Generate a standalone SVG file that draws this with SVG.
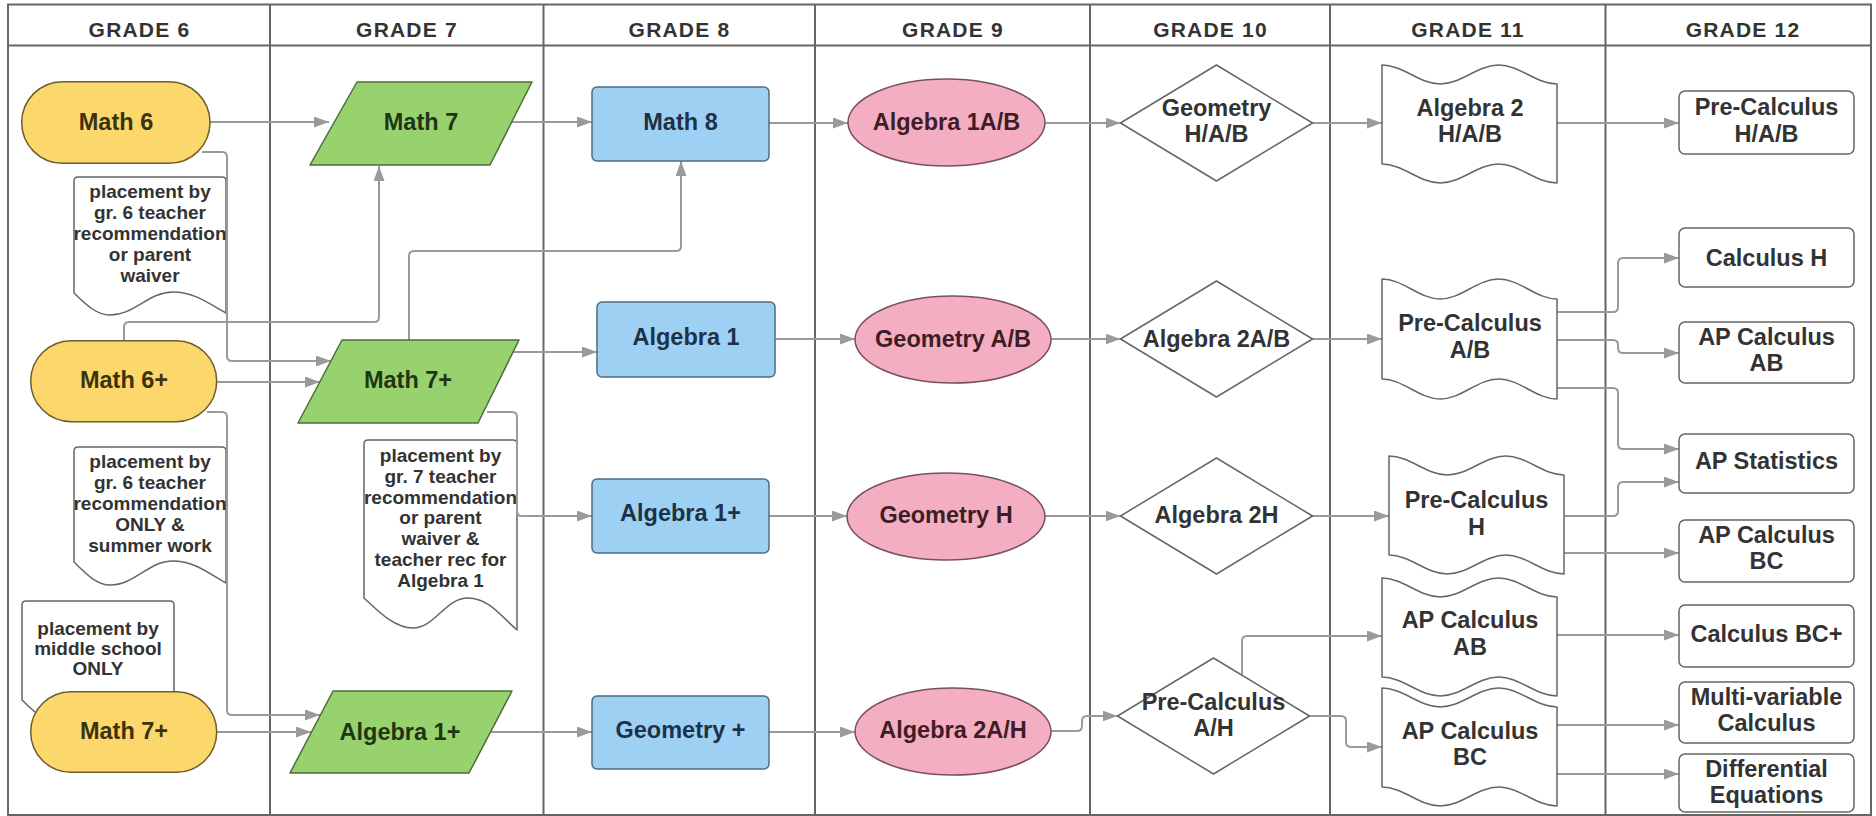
<svg xmlns="http://www.w3.org/2000/svg" width="1876" height="816" viewBox="0 0 1876 816">
<defs>
<style>
.frame{fill:none;stroke:#666;stroke-width:2}
.hdr{font-family:"Liberation Sans",Arial,sans-serif;font-weight:bold;font-size:21px;letter-spacing:1.2px;fill:#333;text-anchor:middle}
.t{font-family:"Liberation Sans",Arial,sans-serif;font-weight:bold;font-size:23.5px;text-anchor:middle}
.n{font-family:"Liberation Sans",Arial,sans-serif;font-weight:bold;font-size:19px;text-anchor:middle;fill:#333}
.yel{fill:#FCD76B;stroke:#6b5d2e;stroke-width:1.5}
.grn{fill:#98D26E;stroke:#4b6e3a;stroke-width:1.5;stroke-linejoin:round}
.blu{fill:#9DD0F2;stroke:#4f6b80;stroke-width:1.5}
.pnk{fill:#F4AEC1;stroke:#7a5060;stroke-width:1.5}
.wht{fill:#fff;stroke:#666;stroke-width:1.5;stroke-linejoin:round}
.ty{fill:#3b3210}.tg{fill:#1f3514}.tb{fill:#1d3148}.tp{fill:#3e1d26}.tw{fill:#333}
.c{fill:none;stroke:#9a9a9a;stroke-width:2;marker-end:url(#ah)}
</style>
<marker id="ah" viewBox="0 0 15 11" refX="15" refY="5.5" markerWidth="15" markerHeight="11" markerUnits="userSpaceOnUse" orient="auto"><path d="M0,0 L15,5.5 L0,11 Z" fill="#9a9a9a"/></marker>
</defs>
<rect width="1876" height="816" fill="#fff"/>
<g id="frame">
<rect class="frame" x="8" y="4.5" width="1863" height="810.5"/>
<line class="frame" x1="8" y1="45.5" x2="1871" y2="45.5"/>
<line class="frame" x1="270" y1="4.5" x2="270" y2="815"/>
<line class="frame" x1="543.5" y1="4.5" x2="543.5" y2="815"/>
<line class="frame" x1="815" y1="4.5" x2="815" y2="815"/>
<line class="frame" x1="1090" y1="4.5" x2="1090" y2="815"/>
<line class="frame" x1="1330" y1="4.5" x2="1330" y2="815"/>
<line class="frame" x1="1605.5" y1="4.5" x2="1605.5" y2="815"/>
<text class="hdr" x="139.5" y="36.5">GRADE 6</text>
<text class="hdr" x="407" y="36.5">GRADE 7</text>
<text class="hdr" x="679.5" y="36.5">GRADE 8</text>
<text class="hdr" x="953" y="36.5">GRADE 9</text>
<text class="hdr" x="1210.5" y="36.5">GRADE 10</text>
<text class="hdr" x="1468" y="36.5">GRADE 11</text>
<text class="hdr" x="1743" y="36.5">GRADE 12</text>
</g>
<g id="note1">
<path class="wht" d="M78,177 H222 Q226,177 226,181 V313 C210.8,305 195.6,292 172.8,292 C148.5,292 134.8,315 110,315 C96.8,315 86.2,305 74,293 V181 Q74,177 78,177 Z"/>
<text class="n" x="150" y="198">placement by</text>
<text class="n" x="150" y="219">gr. 6 teacher</text>
<text class="n" x="150" y="240">recommendation</text>
<text class="n" x="150" y="261">or parent</text>
<text class="n" x="150" y="282">waiver</text>
</g>
<g id="note2">
<path class="wht" d="M78,447 H222 Q226,447 226,451 V583 C210.8,575 195.6,561 172.8,561 C148.5,561 134.8,585 110,585 C96.8,585 86.2,574 74,562 V451 Q74,447 78,447 Z"/>
<text class="n" x="150" y="468">placement by</text>
<text class="n" x="150" y="489">gr. 6 teacher</text>
<text class="n" x="150" y="510">recommendation</text>
<text class="n" x="150" y="531">ONLY &amp;</text>
<text class="n" x="150" y="552">summer work</text>
</g>
<g id="note3">
<path class="wht" d="M26,601 H170 Q174,601 174,605 V720 C158.8,712 143.6,699 120.8,699 C96.5,699 82.8,722 58,722 C44.8,722 34.2,712 22,700 V605 Q22,601 26,601 Z"/>
<text class="n" x="98" y="635">placement by</text>
<text class="n" x="98" y="655">middle school</text>
<text class="n" x="98" y="675">ONLY</text>
</g>
<g id="note4">
<path class="wht" d="M368,440 H513 Q517,440 517,444 V630 C500,615 488,598 468,598 C445,598 435,628 413,628 C395,628 380,613 364,598 V444 Q364,440 368,440 Z"/>
<text class="n" x="440.5" y="462">placement by</text>
<text class="n" x="440.5" y="483">gr. 7 teacher</text>
<text class="n" x="440.5" y="503.5">recommendation</text>
<text class="n" x="440.5" y="524">or parent</text>
<text class="n" x="440.5" y="545">waiver &amp;</text>
<text class="n" x="440.5" y="566">teacher rec for</text>
<text class="n" x="440.5" y="587">Algebra 1</text>
</g>
<g id="connectors">
<path class="c" d="M210,122 H329"/>
<path class="c" d="M202,152 H222 Q227,152 227,157 V356 Q227,361 232,361 H331"/>
<path class="c" d="M217,382 H320"/>
<path class="c" d="M124,341 V327 Q124,322 129,322 H374 Q379,322 379,317 V166"/>
<path class="c" d="M207,412 H222 Q227,412 227,417 V710 Q227,715 232,715 H320"/>
<path class="c" d="M217,732 H311"/>
<path class="c" d="M512,122 H592"/>
<path class="c" d="M409,340 V256 Q409,251 414,251 H676 Q681,251 681,246 V161"/>
<path class="c" d="M513,352 H597"/>
<path class="c" d="M487,412 H512 Q517,412 517,417 V511 Q517,516 522,516 H592"/>
<path class="c" d="M490,732 H592"/>
<path class="c" d="M769,123 H848"/>
<path class="c" d="M775,339 H855"/>
<path class="c" d="M769,516 H847"/>
<path class="c" d="M769,732 H855"/>
<path class="c" d="M1045,123 H1120.5"/>
<path class="c" d="M1051,339 H1120.5"/>
<path class="c" d="M1045,516 H1120.5"/>
<path class="c" d="M1051,731 H1077 Q1082,731 1082,726 V721 Q1082,716 1087,716 H1117.5"/>
<path class="c" d="M1312.5,123 H1382"/>
<path class="c" d="M1312.5,339 H1382"/>
<path class="c" d="M1312.5,516 H1389"/>
<path class="c" d="M1242,675 V641 Q1242,636 1247,636 H1382"/>
<path class="c" d="M1309.5,716 H1341 Q1346,716 1346,721 V742 Q1346,747 1351,747 H1382"/>
<path class="c" d="M1557,123 H1679"/>
<path class="c" d="M1557,312 H1613 Q1618,312 1618,307 V263 Q1618,258 1623,258 H1679"/>
<path class="c" d="M1557,340 H1613 Q1618,340 1618,345 V348 Q1618,353 1623,353 H1679"/>
<path class="c" d="M1557,388 H1613 Q1618,388 1618,393 V444 Q1618,449 1623,449 H1679"/>
<path class="c" d="M1564,516 H1613 Q1618,516 1618,511 V487 Q1618,482 1623,482 H1679"/>
<path class="c" d="M1564,553 H1679"/>
<path class="c" d="M1557,635 H1679"/>
<path class="c" d="M1557,725 H1679"/>
<path class="c" d="M1557,774 H1679"/>
</g>
<g id="math6"><rect class="yel" x="21.7" y="81.7" width="188.3" height="81.6" rx="40.8"/><text class="t ty" x="116" y="130">Math 6</text></g>
<g id="math6plus"><rect class="yel" x="30.7" y="340.7" width="186" height="81" rx="40.5"/><text class="t ty" x="124" y="388">Math 6+</text></g>
<g id="math7plus-g6"><rect class="yel" x="30.7" y="691.7" width="186" height="80.6" rx="40.3"/><text class="t ty" x="124" y="739">Math 7+</text></g>
<g id="math7"><polygon class="grn" points="357,82 532,82 490,165 310,165"/><text class="t tg" x="421" y="130">Math 7</text></g>
<g id="math7plus"><polygon class="grn" points="342,340 519,340 478,423 298,423"/><text class="t tg" x="408" y="388">Math 7+</text></g>
<g id="algebra1plus-g7"><polygon class="grn" points="333,691 512,691 469,773 290,773"/><text class="t tg" x="400" y="740">Algebra 1+</text></g>
<g id="math8"><rect class="blu" x="592" y="87" width="177" height="74" rx="5"/><text class="t tb" x="680.5" y="130">Math 8</text></g>
<g id="algebra1"><rect class="blu" x="597" y="302" width="178" height="75" rx="5"/><text class="t tb" x="686" y="345">Algebra 1</text></g>
<g id="algebra1plus-g8"><rect class="blu" x="592" y="479" width="177" height="74" rx="5"/><text class="t tb" x="680.5" y="521">Algebra 1+</text></g>
<g id="geometryplus"><rect class="blu" x="592" y="696" width="177" height="73" rx="5"/><text class="t tb" x="680.5" y="738">Geometry +</text></g>
<g id="algebra1ab"><ellipse class="pnk" cx="946.5" cy="122.5" rx="98.5" ry="43.5"/><text class="t tp" x="946.5" y="130">Algebra 1A/B</text></g>
<g id="geometryab"><ellipse class="pnk" cx="953" cy="339.5" rx="98" ry="43.5"/><text class="t tp" x="953" y="347">Geometry A/B</text></g>
<g id="geometryh"><ellipse class="pnk" cx="946" cy="516.5" rx="99" ry="43.5"/><text class="t tp" x="946" y="523">Geometry H</text></g>
<g id="algebra2ah"><ellipse class="pnk" cx="953" cy="731.5" rx="98" ry="43.5"/><text class="t tp" x="953" y="738">Algebra 2A/H</text></g>
<g id="geometryhab"><polygon class="wht" points="1120.5,123 1216.5,65 1312.5,123 1216.5,181"/><text class="t tw" x="1216.5" y="116">Geometry</text><text class="t tw" x="1216.5" y="142">H/A/B</text></g>
<g id="algebra2ab"><polygon class="wht" points="1120.5,339 1216.5,281 1312.5,339 1216.5,397"/><text class="t tw" x="1216.5" y="347">Algebra 2A/B</text></g>
<g id="algebra2h"><polygon class="wht" points="1120.5,516 1216.5,458 1312.5,516 1216.5,574"/><text class="t tw" x="1216.5" y="523">Algebra 2H</text></g>
<g id="precalcah"><polygon class="wht" points="1117.5,716 1213.5,658 1309.5,716 1213.5,774"/><text class="t tw" x="1213.5" y="710">Pre-Calculus</text><text class="t tw" x="1213.5" y="736">A/H</text></g>
<g id="algebra2hab"><path class="wht" d="M1382,65 C1403,65 1419.3,84 1440.3,84 C1461.3,84 1477.7,65 1498.7,65 C1519.7,65 1536,84 1557,84 V183 C1536,183 1519.7,164 1498.7,164 C1477.7,164 1461.3,183 1440.3,183 C1419.3,183 1403,164 1382,164 Z"/><text class="t tw" x="1470" y="116">Algebra 2</text><text class="t tw" x="1470" y="142">H/A/B</text></g>
<g id="precalcab"><path class="wht" d="M1382,279 C1403,279 1419.3,299 1440.3,299 C1461.3,299 1477.7,279 1498.7,279 C1519.7,279 1536,299 1557,299 V399 C1536,399 1519.7,379 1498.7,379 C1477.7,379 1461.3,399 1440.3,399 C1419.3,399 1403,379 1382,379 Z"/><text class="t tw" x="1470" y="331">Pre-Calculus</text><text class="t tw" x="1470" y="358">A/B</text></g>
<g id="precalch"><path class="wht" d="M1389,456 C1410,456 1426.3,475 1447.3,475 C1468.3,475 1484.7,456 1505.7,456 C1526.7,456 1543,475 1564,475 V574 C1543,574 1526.7,555 1505.7,555 C1484.7,555 1468.3,574 1447.3,574 C1426.3,574 1410,555 1389,555 Z"/><text class="t tw" x="1476.5" y="508">Pre-Calculus</text><text class="t tw" x="1476.5" y="535">H</text></g>
<g id="apcalcab-g11"><path class="wht" d="M1382,578 C1403,578 1419.3,597 1440.3,597 C1461.3,597 1477.7,578 1498.7,578 C1519.7,578 1536,597 1557,597 V696 C1536,696 1519.7,677 1498.7,677 C1477.7,677 1461.3,696 1440.3,696 C1419.3,696 1403,677 1382,677 Z"/><text class="t tw" x="1470" y="628">AP Calculus</text><text class="t tw" x="1470" y="655">AB</text></g>
<g id="apcalcbc-g11"><path class="wht" d="M1382,688 C1403,688 1419.3,707 1440.3,707 C1461.3,707 1477.7,688 1498.7,688 C1519.7,688 1536,707 1557,707 V806 C1536,806 1519.7,787 1498.7,787 C1477.7,787 1461.3,806 1440.3,806 C1419.3,806 1403,787 1382,787 Z"/><text class="t tw" x="1470" y="739">AP Calculus</text><text class="t tw" x="1470" y="765">BC</text></g>
<g id="precalchab"><rect class="wht" x="1679" y="91" width="175" height="63" rx="6"/><text class="t tw" x="1766.5" y="115">Pre-Calculus</text><text class="t tw" x="1766.5" y="142">H/A/B</text></g>
<g id="calculush"><rect class="wht" x="1679" y="228" width="175" height="59" rx="6"/><text class="t tw" x="1766.5" y="266">Calculus H</text></g>
<g id="apcalcab"><rect class="wht" x="1679" y="322" width="175" height="61" rx="6"/><text class="t tw" x="1766.5" y="345">AP Calculus</text><text class="t tw" x="1766.5" y="371">AB</text></g>
<g id="apstats"><rect class="wht" x="1679" y="434" width="175" height="59" rx="6"/><text class="t tw" x="1766.5" y="469">AP Statistics</text></g>
<g id="apcalcbc"><rect class="wht" x="1679" y="520" width="175" height="62" rx="6"/><text class="t tw" x="1766.5" y="543">AP Calculus</text><text class="t tw" x="1766.5" y="569">BC</text></g>
<g id="calculusbcplus"><rect class="wht" x="1679" y="605" width="175" height="62" rx="6"/><text class="t tw" x="1766.5" y="642">Calculus BC+</text></g>
<g id="multivariable"><rect class="wht" x="1679" y="682" width="175" height="61" rx="6"/><text class="t tw" x="1766.5" y="705">Multi-variable</text><text class="t tw" x="1766.5" y="731">Calculus</text></g>
<g id="diffeq"><rect class="wht" x="1679" y="754" width="175" height="58" rx="6"/><text class="t tw" x="1766.5" y="777">Differential</text><text class="t tw" x="1766.5" y="803">Equations</text></g>
</svg>
